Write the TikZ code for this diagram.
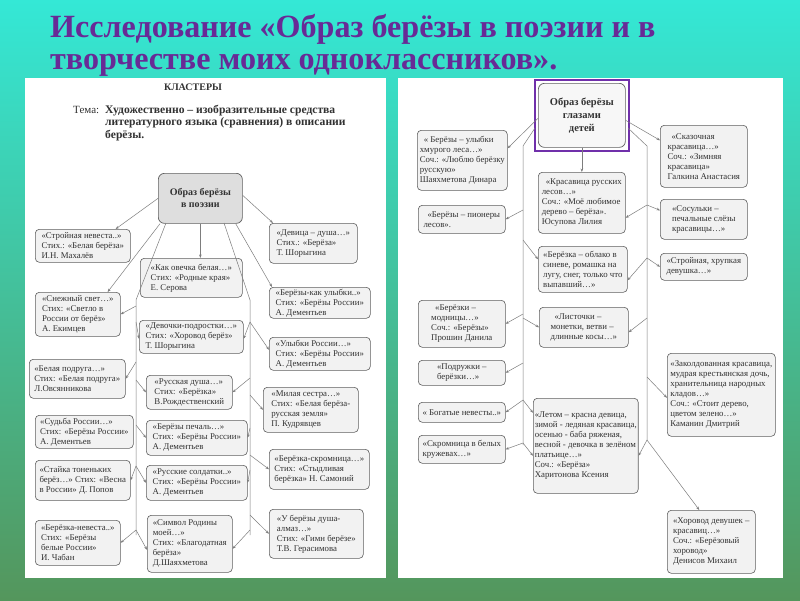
\documentclass[tikz,border=0pt]{standalone}
\usepackage{fontspec}
\setmainfont{Liberation Serif}
\usetikzlibrary{arrows.meta}
\definecolor{ttl}{RGB}{104,42,150}
\definecolor{bgtop}{RGB}{52,232,214}
\definecolor{bgbot}{RGB}{84,150,92}
\definecolor{ink}{RGB}{50,50,50}
\definecolor{edge}{RGB}{95,95,95}
\definecolor{wire}{RGB}{125,125,125}
\definecolor{pur}{RGB}{112,48,170}
\begin{document}
\begin{tikzpicture}[x=1pt,y=-1pt,
  bx/.style 2 args={draw=edge, line width=0.6pt, fill=black!5, rounded corners=4pt,
    anchor=north west, minimum width=#1pt, minimum height=#2pt, inner xsep=1.5pt, inner ysep=1pt,
    align=left, font=\fontsize{8.8}{10}\selectfont, text=ink},
  cbx/.style 2 args={draw=edge, line width=0.7pt, rounded corners=6pt,
    anchor=north west, minimum width=#1pt, minimum height=#2pt, align=center, text=ink},
  ar/.style={draw=wire, line width=0.5pt, -{Stealth[length=3.5pt,width=2.6pt]}},
  ln/.style={draw=wire, line width=0.5pt},
  hd/.style={anchor=base west, inner sep=0pt, text=ink, font=\fontsize{11.6}{13}\selectfont\bfseries},
  tt/.style={anchor=base west, inner sep=0pt, text=ttl, font=\fontsize{30}{34}\selectfont\bfseries}
]
\useasboundingbox (0,0) rectangle (800,600);
\shade[top color=bgtop, bottom color=bgbot] (0,0) rectangle (800,600);
\fill[white] (25,78) rectangle (386,578);
\fill[white] (398,78) rectangle (783,578);

% title
\node[tt] (t1) at (50,37) {\scalebox{1.07}[1.08]{Исследование «Образ берёзы в поэзии и в}};
\node[tt] (t2) at (50,69) {\scalebox{1.07}[1.08]{творчестве моих одноклассников».}};

% ---------- left panel ----------
\node[anchor=base, inner sep=0pt, text=ink, font=\fontsize{10}{12}\selectfont\bfseries] (kl) at (193,90) {КЛАСТЕРЫ};
\node[anchor=base west, inner sep=0pt, text=ink, font=\fontsize{11}{13}\selectfont] (tema) at (73,113) {Тема:};
\node[hd] (h1) at (105,113) {Художественно – изобразительные средства};
\node[hd] (h2) at (105,125.5) {литературного языка (сравнения) в описании};
\node[hd] (h3) at (105,138) {берёзы.};

\node[cbx={84}{50}, fill=black!13, font=\fontsize{10}{12}\selectfont\bfseries] (C1) at (158,173) {Образ берёзы\\в поэзии};

\node[bx={95}{33}] (KL1) at (35,229) {«Стройная невеста..»\\Стих.: «Белая берёза»\\И.Н. Махалёв};
\node[bx={85}{44}] (KL2) at (35,292) {«Снежный свет…»\\Стих: «Светло в\\России от берёз»\\А. Екимцев};
\node[bx={96}{39}] (KL3) at (29,359) {«Белая подруга…»\\Стих: «Белая подруга»\\Л.Овсянникова};
\node[bx={98}{33}] (KL4) at (35,415) {«Судьба России…»\\Стих: «Берёзы России»\\А. Дементьев};
\node[bx={95}{40}] (KL5) at (35,460) {«Стайка тоненьких\\берёз…» Стих: «Весна\\в России» Д. Попов};
\node[bx={85}{45}] (KL6) at (35,520) {«Берёзка-невеста..»\\Стих: «Берёзы\\белые России»\\И. Чабан};

\node[bx={102}{39}] (KM1) at (140,258) {«Как овечка белая…»\\Стих: «Родные края»\\Е. Серова};
\node[bx={104}{33}] (KM2) at (139,320) {«Девочки-подростки…»\\Стих: «Хоровод берёз»\\Т. Шорыгина};
\node[bx={86}{34}] (KM3) at (146,375) {«Русская душа…»\\Стих: «Берёзка»\\В.Рождественский};
\node[bx={101}{35}] (KM4) at (146,420) {«Берёзы печаль…»\\Стих: «Берёзы России»\\А. Дементьев};
\node[bx={101}{35}] (KM5) at (146,465) {«Русские солдатки..»\\Стих: «Берёзы России»\\А. Дементьев};
\node[bx={85}{57}] (KM6) at (147,515) {«Символ Родины\\моей…»\\Стих: «Благодатная\\берёза»\\Д.Шаяхметова};

\node[bx={88}{40}] (KR1) at (269,223) {«Девица – душа…»\\Стих.: «Берёза»\\Т. Шорыгина};
\node[bx={101}{31}] (KR2) at (269,287) {«Берёзы-как улыбки..»\\Стих: «Берёзы России»\\А. Дементьев};
\node[bx={101}{33}] (KR3) at (269,337) {«Улыбки России…»\\Стих: «Берёзы России»\\А. Дементьев};
\node[bx={95}{45}] (KR4) at (263,387) {«Милая сестра…»\\Стих: «Белая берёза-\\русская земля»\\П. Кудрявцев};
\node[bx={100}{40}] (KR5) at (269,449) {«Берёзка-скромница…»\\Стих: «Стыдливая\\берёзка» Н. Самоний};
\node[bx={94}{49}] (KR6) at (269,509) {«У берёзы душа-\\алмаз…»\\Стих: «Гимн берёзе»\\Т.В. Герасимова};

% left panel connectors
\draw[ar] (C1.west) -- ([xshift=-15pt]KL1.north east);
\draw[ar] ([xshift=2pt]C1.south west) -- ([xshift=-13pt]KL2.north east);
\draw[ar] (C1.south) -- (KM1.north -| C1.south);
\draw[ar] ([yshift=3pt]C1.east) -- ([xshift=4pt]KR1.north west);
\draw[ar] ([xshift=-7pt]C1.south east) -- ([xshift=3pt]KR2.north west);

\coordinate (la0) at (166,223);
\coordinate (la1) at (136,300);
\coordinate (la2) at (136,535);
\draw[ln] (la0) -- (la1) -- (la2);
\coordinate (lb1) at (136,306);
\coordinate (lb2) at (136,322);
\coordinate (lb3) at (136,362);
\coordinate (lb4) at (136,380);
\coordinate (lb5) at (136,425);
\coordinate (lb6) at (136,466);
\coordinate (lb7) at (136,530);
\draw[ar] (lb1) -- (KL2.east);
\draw[ar] (lb2) -- ([yshift=-2pt]KM2.west);
\draw[ar] (lb3) -- (KL3.east);
\draw[ar] (lb4) -- (KM3.west);
\draw[ar] (lb5) -- (KM4.west);
\draw[ar] (lb6) -- (KL5.east);
\draw[ar] (lb6) -- (KM5.west);
\draw[ar] (lb7) -- (KL6.east);
\draw[ar] (lb7) -- ([yshift=-6pt]KM6.west);

\coordinate (ra0) at (224,223);
\coordinate (ra1) at (250,300);
\coordinate (ra2) at (250,535);
\draw[ln] (ra0) -- (ra1) -- (ra2);
\coordinate (rb1) at (250,322);
\coordinate (rb2) at (250,378);
\coordinate (rb3) at (250,395);
\coordinate (rb4) at (250,428);
\coordinate (rb5) at (250,455);
\coordinate (rb6) at (250,470);
\coordinate (rb7) at (250,515);
\coordinate (rb8) at (250,530);
\draw[ar] (rb1) -- ([yshift=-2pt]KM2.east);
\draw[ar] (rb1) -- ([yshift=4pt]KR3.west);
\draw[ar] (rb2) -- (KM3.east);
\draw[ar] (rb3) -- (KR4.west);
\draw[ar] (rb4) -- (KM4.east);
\draw[ar] (rb5) -- (KR5.west);
\draw[ar] (rb6) -- (KM5.east);
\draw[ar] (rb7) -- (KR6.west);
\draw[ar] (rb8) -- ([yshift=-5pt]KM6.east);

% ---------- right panel ----------
\node[cbx={87}{64}, fill=black!3, font=\fontsize{10.5}{13}\selectfont\bfseries] (C2) at (538,83) {Образ берёзы\\глазами\\детей};
\draw[pur, line width=1.8pt] ([shift={(-3pt,3pt)}]C2.north west) rectangle ([shift={(3pt,-3pt)}]C2.south east);

\node[bx={90}{60}] (RL1) at (417,130) {\hspace*{4pt}« Берёзы – улыбки\\хмурого леса…»\\Соч.: «Люблю берёзку\\русскую»\\Шаяхметова Динара};
\node[bx={87}{28}] (RL2) at (418,205) {\hspace*{4pt}«Берёзы – пионеры\\лесов».};
\node[bx={87}{47}] (RL3) at (418,300) {\hspace*{4pt}«Берёзки –\\модницы…»\\Соч.: «Берёзы»\\Прошин Данила};
\node[bx={87}{25}] (RL4) at (418,360) {«Подружки –\\берёзки…»};
\node[bx={87}{20}] (RL5) at (418,402) {« Богатые невесты..»};
\node[bx={87}{28}] (RL6) at (418,435) {«Скромница в белых\\кружевах…»};

\node[bx={87}{61}] (RM1) at (538,172) {\hspace*{4pt}«Красавица русских\\лесов…»\\Соч.: «Моё любимое\\дерево – берёза».\\Юсупова Лилия};
\node[bx={89}{46}] (RM2) at (538,246) {«Берёзка – облако в\\синеве, ромашка на\\лугу, снег, только что\\выпавший…»};
\node[bx={89}{40}] (RM3) at (539,307) {\hspace*{4pt}«Листочки –\\монетки, ветви –\\длинные косы…»};
\node[bx={104}{95}] (RM4) at (533,398) {«Летом – красна девица,\\зимой - ледяная красавица,\\осенью - баба ряженая,\\весной - девочка в зелёном\\платьице…»\\Соч.: «Берёза»\\Харитонова Ксения};

\node[bx={87}{62}] (RR1) at (660,125) {\hspace*{4pt}«Сказочная\\красавица…»\\Соч.: «Зимняя\\красавица»\\Галкина Анастасия};
\node[bx={87}{40}] (RR2) at (660,199) {«Сосульки –\\печальные слёзы\\красавицы…»};
\node[bx={87}{27}] (RR3) at (660,253) {«Стройная, хрупкая\\девушка…»};
\node[bx={108}{83}] (RR4) at (667,353) {«Заколдованная красавица,\\мудрая крестьянская дочь,\\хранительница народных\\кладов…»\\Соч.: «Стоит дерево,\\цветом зелено…»\\Каманин Дмитрий};
\node[bx={88}{63}] (RR5) at (667,510) {«Хоровод девушек –\\красавиц…»\\Соч.: «Берёзовый\\хоровод»\\Денисов Михаил};

% right panel connectors
\draw[ar] (C2.south) -- (RM1.north -| C2.south);
\draw[ar] ([yshift=-3pt]C2.west) -- ([yshift=12pt]RL1.east);
\draw[ar] ([yshift=-5pt]C2.east) -- ([yshift=16pt]RR1.west);

\coordinate (pa0) at (535,128);
\coordinate (pa1) at (523,146);
\coordinate (pa2) at (523,445);
\draw[ln] (pa0) -- (pa1) -- (pa2);
\coordinate (pb1) at (523,210);
\coordinate (pb2) at (523,240);
\coordinate (pb3) at (523,314);
\coordinate (pb4) at (523,318);
\coordinate (pb5) at (523,363);
\coordinate (pb6) at (523,400);
\coordinate (pb7) at (523,443);
\draw[ar] (pb1) -- (RL2.east);
\draw[ar] (pb2) -- ([yshift=10pt]RM2.west);
\draw[ar] (pb3) -- (RL3.east);
\draw[ar] (pb4) -- (RM3.west);
\draw[ar] (pb5) -- (RL4.east);
\draw[ar] (pb6) -- (RL5.east);
\draw[ar] (pb6) -- ([yshift=33pt]RM4.west);
\draw[ar] (pb7) -- (RL6.east);
\draw[ar] (pb7) -- ([yshift=-10pt]RM4.west);

\coordinate (qa0) at (628,128);
\coordinate (qa1) at (647,146);
\coordinate (qa2) at (647,440);
\draw[ln] (qa0) -- (qa1) -- (qa2);
\coordinate (qb1) at (647,205);
\coordinate (qb2) at (647,258);
\coordinate (qb3) at (647,318);
\coordinate (qb4) at (647,377);
\draw[ar] (qb1) -- ([yshift=-15pt]RM1.east);
\draw[ar] (qb1) -- ([yshift=9pt]RR2.west);
\draw[ar] (qb2) -- ([yshift=-11pt]RM2.east);
\draw[ar] (qb2) -- (RR3.west);
\draw[ar] (qb3) -- ([yshift=-5pt]RM3.east);
\draw[ar] (qb4) -- ([yshift=-3pt]RR4.west);
\draw[ar] (qa2) -- ([yshift=-10pt]RM4.east);
\draw[ar] (qa2) -- ([xshift=-12pt]RR5.north);
\end{tikzpicture}
\end{document}
